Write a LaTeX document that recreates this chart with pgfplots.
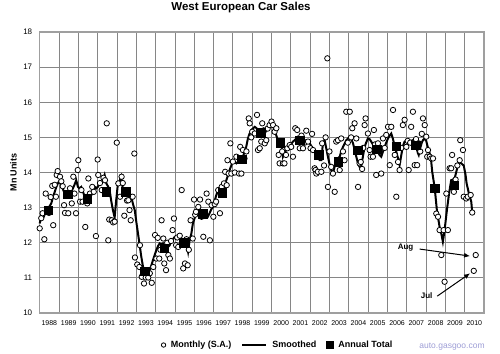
\documentclass[border=0pt]{standalone}
\usepackage{fontspec}
\setmainfont{Liberation Sans}
\usepackage{pgfplots}
\pgfplotsset{compat=1.18}
\usetikzlibrary{arrows.meta}
\pgfplotsset{smoothleg/.style={legend image code/.code={\draw[black, line width=2pt] (-4pt,0pt) -- (20pt,0pt);}}}

\begin{document}
\begin{tikzpicture}[x=1pt,y=1pt]
\useasboundingbox (0,0) rectangle (500,353);
\begin{axis}[
  at={(39.7pt,40pt)}, anchor=south west,
  scale only axis, width=444.3pt, height=281pt,
  xmin=1988, xmax=2011, ymin=10, ymax=18,
  clip=false,
  ytick={10,11,12,13,14,15,16,17,18},
  xtick={1988.5,1989.5,...,2010.5},
  xticklabels={1988,1989,1990,1991,1992,1993,1994,1995,1996,1997,1998,1999,2000,2001,2002,2003,2004,2005,2006,2007,2008,2009,2010},
  minor xtick={1989,1990,...,2010},
  xminorgrids=true, xmajorgrids=false, ymajorgrids=true,
  major tick length=0pt, minor tick length=0pt,
  tick style={draw=none},
  major grid style={draw=gray!95, line width=0.8pt},
  minor grid style={draw=gray!95, line width=0.8pt},
  axis line style={draw=gray!75, line width=1.4pt},
  /pgf/number format/assume math mode=true,
  yticklabel style={font=\fontsize{8}{9}\selectfont, xshift=-4pt},
  xticklabel style={font=\fontsize{7}{8}\selectfont, yshift=-4.5pt},
  legend columns=3,
  legend style={draw=none, fill=none, at={(0.536,-0.114)}, anchor=center,
    font=\bfseries\fontsize{9}{10}\selectfont,
    /tikz/every odd column/.append style={column sep=3pt},
    /tikz/every even column/.append style={column sep=8pt}},
]
\addlegendimage{only marks, mark=*, mark size=2.2pt, mark options={fill=white, draw=black, line width=0.8pt}}
\addlegendentry{Monthly (S.A.)}
\addlegendimage{smoothleg}
\addlegendentry{Smoothed}
\addlegendimage{only marks, mark=square*, mark size=3.6pt, black}
\addlegendentry{Annual Total}

% Smoothed
\addplot[black, line width=2pt, forget plot] coordinates {
(1988.00,12.55)(1988.08,12.74)(1988.17,12.70)(1988.30,12.85)(1988.43,12.93)(1988.52,13.05)
(1988.60,13.12)(1988.69,13.31)(1988.78,13.45)(1988.86,13.59)(1988.95,13.70)(1989.04,13.78)
(1989.12,13.64)(1989.22,13.50)(1989.30,13.40)(1989.38,13.31)(1989.47,13.40)(1989.55,13.36)
(1989.64,13.45)(1989.72,13.55)(1989.80,13.65)(1989.89,13.78)(1989.98,13.59)(1990.06,13.55)
(1990.15,13.59)(1990.24,13.45)(1990.33,13.31)(1990.42,13.25)(1990.50,13.21)(1990.58,13.30)
(1990.67,13.40)(1990.76,13.40)(1990.85,13.59)(1990.93,13.55)(1991.02,13.60)(1991.11,13.74)
(1991.20,13.70)(1991.28,13.80)(1991.36,13.93)(1991.45,13.69)(1991.54,13.60)(1991.62,13.50)
(1991.70,13.20)(1991.79,12.93)(1991.88,12.72)(1991.96,13.21)(1992.05,13.69)(1992.13,13.75)
(1992.22,13.88)(1992.31,13.50)(1992.40,13.50)(1992.48,13.45)(1992.57,13.35)(1992.66,13.21)
(1992.74,13.31)(1992.83,13.10)(1992.92,12.93)(1993.00,12.60)(1993.09,12.26)(1993.17,11.95)
(1993.26,11.60)(1993.35,11.31)(1993.43,11.25)(1993.52,11.22)(1993.61,11.20)(1993.69,11.22)
(1993.78,11.35)(1993.86,11.50)(1993.95,11.65)(1994.04,11.79)(1994.12,11.90)(1994.21,11.98)
(1994.30,11.95)(1994.38,11.98)(1994.47,11.90)(1994.55,11.84)(1994.64,11.88)(1994.73,11.93)
(1994.81,12.07)(1994.90,12.10)(1994.99,12.17)(1995.07,12.17)(1995.16,12.20)(1995.25,12.20)
(1995.33,12.12)(1995.42,12.07)(1995.50,12.03)(1995.59,11.98)(1995.68,11.74)(1995.76,12.07)
(1995.85,12.26)(1995.93,12.55)(1996.02,12.70)(1996.11,12.83)(1996.19,12.90)(1996.28,12.97)
(1996.36,12.90)(1996.45,12.85)(1996.54,12.88)(1996.62,12.80)(1996.71,12.75)(1996.80,12.85)
(1996.88,12.95)(1996.97,13.02)(1997.06,13.20)(1997.14,13.35)(1997.23,13.50)(1997.32,13.45)
(1997.40,13.48)(1997.49,13.50)(1997.57,13.62)(1997.66,13.78)(1997.75,13.92)(1997.83,14.07)
(1997.92,14.20)(1998.01,14.35)(1998.09,14.30)(1998.18,14.26)(1998.26,14.30)(1998.35,14.35)
(1998.43,14.40)(1998.52,14.45)(1998.61,14.60)(1998.69,14.73)(1998.78,14.97)(1998.86,15.10)
(1998.95,15.21)(1999.04,15.25)(1999.13,15.30)(1999.21,15.27)(1999.30,15.20)(1999.39,15.21)
(1999.47,15.18)(1999.56,15.16)(1999.65,15.11)(1999.73,15.20)(1999.82,15.30)(1999.90,15.33)
(1999.99,15.35)(2000.08,15.30)(2000.16,15.21)(2000.25,15.05)(2000.33,14.92)(2000.42,14.88)
(2000.51,14.83)(2000.59,14.45)(2000.68,14.55)(2000.76,14.64)(2000.85,14.70)(2000.94,14.73)
(2001.03,14.82)(2001.11,14.88)(2001.20,14.92)(2001.28,14.97)(2001.37,15.02)(2001.46,15.00)
(2001.54,14.97)(2001.63,14.95)(2001.72,14.92)(2001.80,14.90)(2001.89,14.86)(2001.98,14.83)
(2002.06,14.75)(2002.15,14.64)(2002.23,14.58)(2002.32,14.54)(2002.40,14.45)(2002.49,14.35)
(2002.58,14.35)(2002.66,14.83)(2002.75,14.92)(2002.83,14.70)(2002.92,14.45)(2003.00,14.25)
(2003.09,14.07)(2003.18,13.97)(2003.26,14.15)(2003.35,14.35)(2003.44,14.40)(2003.53,14.45)
(2003.61,14.60)(2003.70,14.73)(2003.78,14.82)(2003.87,14.92)(2003.96,14.97)(2004.05,15.02)
(2004.13,14.95)(2004.22,14.83)(2004.30,14.65)(2004.39,14.45)(2004.48,14.25)(2004.56,14.16)
(2004.65,14.20)(2004.73,14.45)(2004.82,14.73)(2004.90,14.85)(2004.99,14.97)(2005.08,14.95)
(2005.16,14.88)(2005.25,14.80)(2005.33,14.76)(2005.42,14.73)(2005.51,14.60)(2005.59,14.50)
(2005.68,14.45)(2005.77,14.60)(2005.86,14.73)(2005.94,14.85)(2006.03,14.97)(2006.12,15.05)
(2006.20,15.11)(2006.29,14.95)(2006.37,14.75)(2006.46,14.59)(2006.55,14.40)(2006.63,14.21)
(2006.72,14.50)(2006.80,14.75)(2006.89,14.88)(2006.97,14.90)(2007.06,14.90)(2007.15,14.88)
(2007.23,14.90)(2007.32,14.92)(2007.41,14.92)(2007.49,14.73)(2007.58,14.55)(2007.62,14.50)
(2007.70,14.70)(2007.78,14.85)(2007.84,14.92)(2007.93,14.97)(2008.01,14.90)(2008.10,14.70)
(2008.19,14.54)(2008.27,14.30)(2008.32,14.02)(2008.45,13.55)(2008.56,12.93)(2008.70,12.45)
(2008.79,12.26)(2008.87,12.03)(2008.96,12.36)(2009.08,12.93)(2009.19,13.40)(2009.30,13.78)
(2009.39,13.80)(2009.48,13.83)(2009.58,14.05)(2009.70,14.31)(2009.82,14.26)(2009.95,14.20)
(2010.04,13.95)(2010.10,13.69)(2010.22,13.40)(2010.34,13.17)(2010.39,12.88)
};

% Monthly (S.A.)
\addplot[only marks, mark=*, mark size=2.7pt, mark options={fill=white, draw=black, line width=0.8pt}, forget plot] coordinates {
(1988.00,12.41)(1988.08,12.70)(1988.15,12.84)(1988.24,12.10)(1988.31,13.40)(1988.40,12.95)
(1988.48,12.85)(1988.57,13.30)(1988.65,13.62)(1988.70,12.50)(1988.78,13.65)(1988.84,13.31)
(1988.88,13.93)(1988.93,14.04)(1989.05,13.88)(1989.12,13.75)(1989.19,13.61)(1989.26,13.07)
(1989.31,12.85)(1989.40,13.35)(1989.48,12.84)(1989.57,13.55)(1989.66,13.12)(1989.74,13.88)
(1989.80,13.40)(1989.88,12.84)(1989.97,14.07)(1990.00,14.35)(1990.09,13.17)(1990.16,13.50)
(1990.22,13.17)(1990.36,12.45)(1990.40,13.30)(1990.46,13.12)(1990.52,13.83)(1990.60,13.40)
(1990.72,13.59)(1990.80,13.45)(1990.91,12.19)(1991.00,14.37)(1991.03,13.93)(1991.12,13.70)
(1991.21,13.50)(1991.30,13.85)(1991.38,13.78)(1991.47,15.40)(1991.55,12.07)(1991.60,12.66)
(1991.73,12.64)(1991.80,12.58)(1991.88,12.60)(1991.99,14.85)(1992.07,13.69)(1992.16,13.31)
(1992.24,13.88)(1992.30,13.70)(1992.38,12.77)(1992.45,13.40)(1992.52,13.20)(1992.59,13.21)
(1992.65,12.93)(1992.71,12.64)(1992.81,13.31)(1992.90,14.54)(1992.93,11.58)(1993.05,11.38)
(1993.16,11.31)(1993.19,11.93)(1993.28,11.03)(1993.40,10.84)(1993.49,11.01)(1993.57,11.22)
(1993.62,11.01)(1993.70,11.13)(1993.80,10.86)(1993.88,11.31)(1993.97,12.22)(1994.04,11.55)
(1994.11,12.14)(1994.19,11.55)(1994.25,11.80)(1994.31,12.64)(1994.40,12.12)(1994.45,11.41)
(1994.54,11.22)(1994.60,12.00)(1994.66,11.65)(1994.74,11.55)(1994.80,12.05)(1994.88,12.36)
(1994.95,12.69)(1995.06,11.93)(1995.12,12.15)(1995.17,11.88)(1995.25,12.20)(1995.35,13.50)
(1995.43,11.27)(1995.52,11.41)(1995.60,12.10)(1995.66,11.36)(1995.72,11.80)(1995.81,12.64)
(1995.92,12.12)(1995.99,13.23)(1996.05,12.80)(1996.09,12.88)(1996.21,13.02)(1996.30,13.23)
(1996.38,12.74)(1996.47,12.17)(1996.55,12.85)(1996.64,13.40)(1996.73,13.17)(1996.81,12.07)
(1996.90,13.07)(1996.99,12.74)(1997.06,13.10)(1997.13,13.17)(1997.24,13.50)(1997.33,12.84)
(1997.42,13.59)(1997.54,13.69)(1997.60,14.02)(1997.68,13.64)(1997.72,14.35)(1997.78,13.97)
(1997.87,14.83)(1997.92,13.97)(1998.00,14.31)(1998.10,14.00)(1998.18,14.45)(1998.32,13.97)
(1998.38,14.73)(1998.44,13.97)(1998.52,14.64)(1998.60,14.40)(1998.70,14.60)(1998.82,15.54)
(1998.87,15.40)(1998.95,15.00)(1999.00,15.16)(1999.13,15.11)(1999.25,15.64)(1999.30,14.64)
(1999.39,14.69)(1999.47,14.88)(1999.52,15.40)(1999.60,15.20)(1999.65,14.83)(1999.73,14.92)
(1999.80,15.25)(1999.90,15.35)(2000.00,15.45)(2000.08,15.35)(2000.16,15.16)(2000.25,15.26)
(2000.37,14.50)(2000.42,14.26)(2000.47,14.88)(2000.55,14.60)(2000.59,14.26)(2000.67,14.26)
(2000.75,14.50)(2000.82,14.69)(2000.94,14.78)(2001.02,14.73)(2001.11,14.45)(2001.23,15.26)
(2001.33,15.21)(2001.40,14.95)(2001.46,14.69)(2001.55,15.05)(2001.63,14.69)(2001.72,14.85)
(2001.80,15.19)(2001.89,14.88)(2002.02,14.69)(2002.10,15.10)(2002.15,14.64)(2002.23,14.12)
(2002.28,14.07)(2002.32,13.97)(2002.40,14.02)(2002.48,14.50)(2002.58,14.02)(2002.62,14.83)
(2002.72,14.20)(2002.80,15.00)(2002.89,17.25)(2002.92,13.59)(2003.00,14.60)(2003.09,14.16)
(2003.18,13.97)(2003.27,13.45)(2003.35,14.88)(2003.44,14.92)(2003.53,14.07)(2003.61,14.97)
(2003.70,14.60)(2003.78,14.35)(2003.87,15.73)(2003.95,14.85)(2004.05,15.73)(2004.12,15.00)
(2004.18,15.26)(2004.30,15.40)(2004.39,14.97)(2004.48,13.59)(2004.56,14.26)(2004.62,14.30)
(2004.69,14.10)(2004.75,14.70)(2004.82,15.35)(2004.87,15.54)(2004.99,15.11)(2005.08,14.64)
(2005.13,14.45)(2005.25,14.45)(2005.30,15.21)(2005.36,14.80)(2005.42,13.93)(2005.51,14.83)
(2005.60,14.60)(2005.68,13.97)(2005.77,14.97)(2005.86,14.70)(2005.94,15.07)(2006.03,15.30)
(2006.12,14.21)(2006.20,15.30)(2006.29,15.78)(2006.38,14.50)(2006.46,13.31)(2006.55,14.30)
(2006.63,14.07)(2006.72,14.70)(2006.80,15.35)(2006.89,15.50)(2006.98,14.73)(2007.05,14.90)
(2007.10,14.07)(2007.18,14.85)(2007.23,15.30)(2007.32,15.73)(2007.41,14.21)(2007.48,14.95)
(2007.54,14.21)(2007.62,14.83)(2007.70,14.60)(2007.78,15.10)(2007.84,15.54)(2007.93,15.35)
(2008.01,15.02)(2008.06,14.45)(2008.10,14.64)(2008.19,14.45)(2008.27,14.40)(2008.36,14.40)
(2008.53,12.83)(2008.62,12.74)(2008.70,12.36)(2008.79,11.65)(2008.91,12.36)(2008.96,10.89)
(2009.05,13.40)(2009.13,12.36)(2009.22,14.12)(2009.30,14.12)(2009.35,14.50)(2009.44,13.45)
(2009.53,13.80)(2009.62,14.20)(2009.74,14.35)(2009.77,14.92)(2009.91,14.64)(2009.95,13.31)
(2010.08,13.26)(2010.16,13.31)(2010.31,13.36)(2010.39,12.86)(2010.47,11.20)(2010.57,11.65)
};

% Annual Total
\addplot[only marks, mark=square*, mark size=4.3pt, black, forget plot] coordinates {
(1988.45,12.93)(1989.44,13.38)(1990.45,13.26)(1991.45,13.46)(1992.45,13.45)(1993.45,11.19)
(1994.45,11.84)(1995.45,12.00)(1996.45,12.83)(1997.45,13.43)(1998.45,14.38)(1999.45,15.13)
(2000.45,14.85)(2001.45,14.92)(2002.45,14.51)(2003.45,14.30)(2004.45,14.64)(2005.45,14.66)
(2006.45,14.75)(2007.45,14.78)(2008.45,13.55)(2009.45,13.64)
};

\node[font=\bfseries\fontsize{8}{9}\selectfont] at (axis cs:2006.94,11.86) {Aug};
\draw[-{Latex[length=6pt,width=5pt]}, line width=1pt] (axis cs:2007.67,11.82) -- (axis cs:2010.28,11.62);
\node[font=\bfseries\fontsize{8}{9}\selectfont] at (axis cs:2008.03,10.50) {Jul};
\draw[-{Latex[length=6pt,width=5pt]}, line width=1pt] (axis cs:2008.58,10.48) -- (axis cs:2010.28,11.13);
\end{axis}
\node[font=\bfseries\fontsize{11.5}{13}\selectfont] at (241,345) {West European Car Sales};
\node[rotate=90, font=\bfseries\fontsize{9}{10}\selectfont] at (13.5,180.5) {Mn Units};
\node[text=blue!40!gray!55, font=\fontsize{8.5}{10}\selectfont] at (452,6) {auto.gasgoo.com};
\end{tikzpicture}
\end{document}
